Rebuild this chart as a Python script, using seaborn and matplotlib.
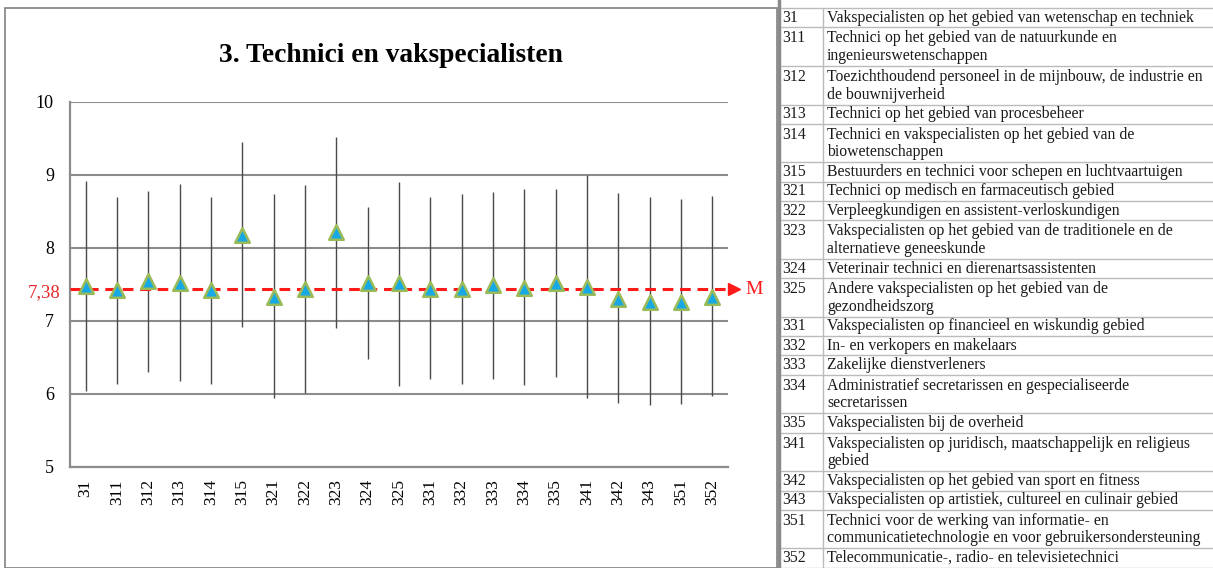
import pandas as pd
import seaborn as sns
import matplotlib.pyplot as plt
from matplotlib.lines import Line2D

codes = ["31", "311", "312", "313", "314", "315", "321", "322", "323", "324", "325",
         "331", "332", "333", "334", "335", "341", "342", "343", "351", "352"]
means = [7.47, 7.42, 7.54, 7.51, 7.42, 8.17, 7.33, 7.44, 8.21, 7.52, 7.51,
         7.44, 7.43, 7.49, 7.45, 7.52, 7.46, 7.30, 7.26, 7.25, 7.33]
lows = [6.04, 6.13, 6.30, 6.17, 6.13, 6.91, 5.94, 6.01, 6.90, 6.48, 6.10,
        6.20, 6.13, 6.20, 6.12, 6.23, 5.94, 5.87, 5.84, 5.86, 5.97]
highs = [8.91, 8.70, 8.77, 8.87, 8.70, 9.45, 8.74, 8.86, 9.52, 8.56, 8.90,
         8.70, 8.74, 8.76, 8.81, 8.81, 8.99, 8.75, 8.70, 8.67, 8.71]
mean_line = 7.43
mean_label = "7,38"

descriptions = [
    "Vakspecialisten op het gebied van wetenschap en techniek",
    "Technici op het gebied van de natuurkunde en\ningenieurswetenschappen",
    "Toezichthoudend personeel in de mijnbouw, de industrie en\nde bouwnijverheid",
    "Technici op het gebied van procesbeheer",
    "Technici en vakspecialisten op het gebied van de\nbiowetenschappen",
    "Bestuurders en technici voor schepen en luchtvaartuigen",
    "Technici op medisch en farmaceutisch gebied",
    "Verpleegkundigen en assistent-verloskundigen",
    "Vakspecialisten op het gebied van de traditionele en de\nalternatieve geneeskunde",
    "Veterinair technici en dierenartsassistenten",
    "Andere vakspecialisten op het gebied van de\ngezondheidszorg",
    "Vakspecialisten op financieel en wiskundig gebied",
    "In- en verkopers en makelaars",
    "Zakelijke dienstverleners",
    "Administratief secretarissen en gespecialiseerde\nsecretarissen",
    "Vakspecialisten bij de overheid",
    "Vakspecialisten op juridisch, maatschappelijk en religieus\ngebied",
    "Vakspecialisten op het gebied van sport en fitness",
    "Vakspecialisten op artistiek, cultureel en culinair gebied",
    "Technici voor de werking van informatie- en\ncommunicatietechnologie en voor gebruikersondersteuning",
    "Telecommunicatie-, radio- en televisietechnici",
]

df = pd.DataFrame({"code": codes, "mean": means, "low": lows, "high": highs})

sns.set_style("white")
plt.rcParams["font.family"] = ["Liberation Serif", "DejaVu Serif"]
plt.rcParams["text.color"] = "black"
plt.rcParams["xtick.labelcolor"] = "black"
plt.rcParams["ytick.labelcolor"] = "black"

W, H = 1213, 568
fig = plt.figure(figsize=(W / 100, H / 100), dpi=100)

# chart panel frame
fig.add_artist(plt.Rectangle((5 / W, 0), 772 / W, (H - 8) / H, transform=fig.transFigure,
                             fill=False, edgecolor="#808080", linewidth=1.2))

ax = fig.add_axes([70 / W, (H - 466.7) / H, 658 / W, 365 / H])
x = list(range(len(codes)))

for v in range(5, 11):
    ax.axhline(v, color="#8c8c8c", linewidth=1.5, zorder=0)

ax.vlines(x, df["low"], df["high"], color="#4a4a4a", linewidth=1.0, zorder=2)

ax.plot([-0.5, 20.62], [mean_line, mean_line], color="#ff1a1a", linestyle=(0, (3.5, 2.2)),
        linewidth=2.2, clip_on=False, zorder=3)
ax.plot([20.7], [mean_line], marker=">", markersize=9, color="#ff1a1a", clip_on=False,
        linestyle="none", zorder=3)
ax.text(21.35, mean_line, "M", color="#ff1a1a", fontsize=14, ha="center", va="center")
ax.annotate(mean_label, xy=(0, 7.38), xycoords=("axes fraction", "data"), xytext=(-7, 0),
            textcoords="offset points", ha="right", va="center", color="#e8282e", fontsize=13.5)

sns.scatterplot(data=df, x="code", y="mean", marker="^", s=110, color="#16a9e6",
                edgecolor="#9bbb59", linewidth=1.8, zorder=4, ax=ax)

ax.set_xlim(-0.5, 20.5)
ax.set_ylim(5, 10)
ax.set_yticks(range(5, 11))
ax.set_yticklabels([str(v) for v in range(5, 11)], fontsize=13)
ax.set_xticks(x)
ax.set_xticklabels(codes, rotation=90, fontsize=12.5)
ax.set_xticks([i - 0.5 for i in range(len(codes) + 1)], minor=True)
ax.tick_params(axis="x", which="major", length=0, pad=9)
ax.tick_params(axis="x", which="minor", length=4.5, width=1.2, color="#8c8c8c", direction="out")
ax.tick_params(axis="y", length=3.6, width=1.5, color="#8c8c8c", pad=8, direction="out")
ax.set_xlabel("")
ax.set_ylabel("")
for side in ["top", "right"]:
    ax.spines[side].set_visible(False)
ax.spines["left"].set_color("#8c8c8c")
ax.spines["left"].set_linewidth(1.6)
ax.spines["bottom"].set_color("#8c8c8c")
ax.spines["bottom"].set_linewidth(1.6)

fig.text(391 / W, 1 - 56 / H, "3. Technici en vakspecialisten", ha="center", va="center",
         fontsize=19.8, fontweight="bold", color="black")

# description table
unit = 19.3
line_gap = 17.5
top = 8
fig.add_artist(Line2D([779 / W, 779 / W], [0, 1], transform=fig.transFigure,
                      color="#8a8a8a", linewidth=2.5))
fig.add_artist(Line2D([823 / W, 823 / W], [0, 1 - top / H], transform=fig.transFigure,
                      color="#bbbbbb", linewidth=1))
fig.add_artist(Line2D([781 / W, 1], [1 - top / H, 1 - top / H], transform=fig.transFigure,
                      color="#bbbbbb", linewidth=1))
y = top
for code, desc in zip(codes, descriptions):
    lines = desc.split("\n")
    h = unit * len(lines)
    first = y + (unit if len(lines) > 1 else h) / 2 + (1.5 if len(lines) > 1 else 0)
    fig.text(782 / W, 1 - first / H, code, ha="left", va="center", fontsize=11.3,
             color="#1a1a1a")
    for k, line in enumerate(lines):
        fig.text(827 / W, 1 - (first + k * line_gap) / H, line, ha="left", va="center",
                 fontsize=11.3, color="#1a1a1a")
    y += h
    fig.add_artist(Line2D([781 / W, 1], [1 - y / H, 1 - y / H], transform=fig.transFigure,
                          color="#bbbbbb", linewidth=1))

fig.savefig("out.png", dpi=100)
